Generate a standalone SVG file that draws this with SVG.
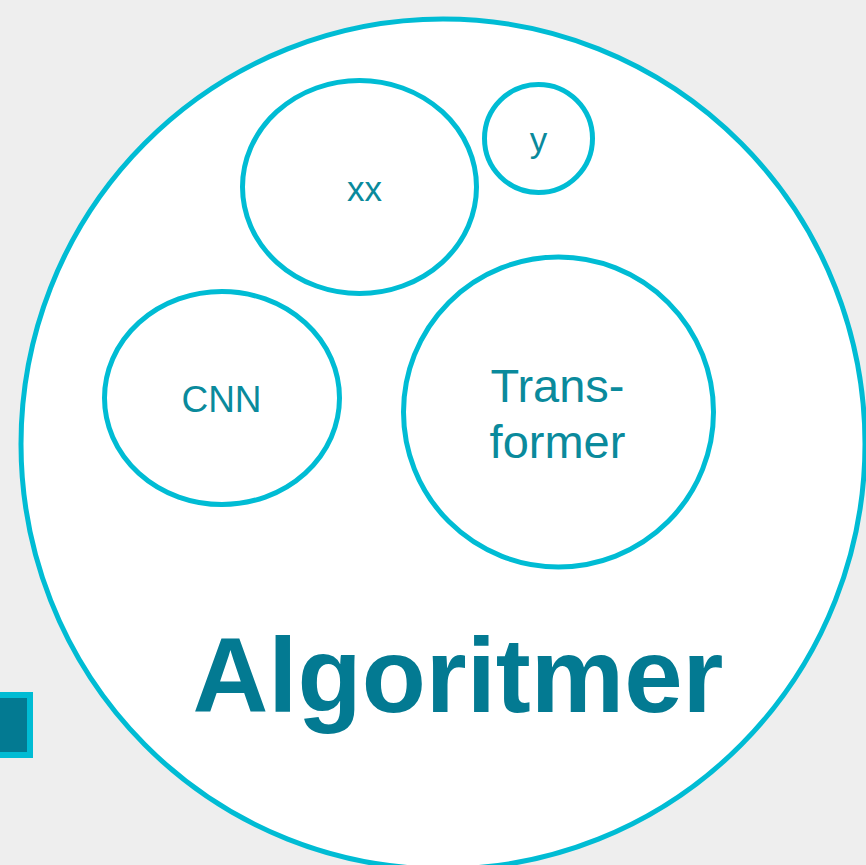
<svg xmlns="http://www.w3.org/2000/svg" width="866" height="865" viewBox="0 0 866 865">
<style>
.ring{fill:#ffffff;stroke:#00bcd4;stroke-width:5}
.lbl{font-family:"Liberation Sans",Arial,sans-serif;fill:#0a8a9c;text-anchor:middle}
.big{font-family:"Liberation Sans",Arial,sans-serif;font-weight:bold;fill:#037a92;text-anchor:middle}
</style>
<rect x="0" y="0" width="866" height="865" fill="#eeeeee"/>
<g id="algoritmer">
<ellipse class="ring" cx="443" cy="444" rx="422" ry="425"/>
<text class="big" x="458" y="712" font-size="105">Algoritmer</text>
</g>
<g id="xx">
<ellipse class="ring" cx="359.5" cy="187" rx="117" ry="106.5"/>
<text class="lbl" x="364.5" y="201" font-size="35">xx</text>
</g>
<g id="y">
<circle class="ring" cx="538.5" cy="138.5" r="54"/>
<text class="lbl" x="538.5" y="152" font-size="35">y</text>
</g>
<g id="cnn">
<ellipse class="ring" cx="222" cy="398" rx="117.5" ry="106.5"/>
<text class="lbl" x="221.5" y="412" font-size="37">CNN</text>
</g>
<g id="transformer">
<circle class="ring" cx="558.5" cy="412" r="155"/>
<text class="lbl" x="557.5" y="402" font-size="47">Trans-</text>
<text class="lbl" x="557.5" y="458" font-size="47">former</text>
</g>
<g id="tab">
<rect x="-10" y="695" width="40" height="60" fill="#037a92" stroke="#00bcd4" stroke-width="6"/>
</g>
<g id="connectors"/>
</svg>
